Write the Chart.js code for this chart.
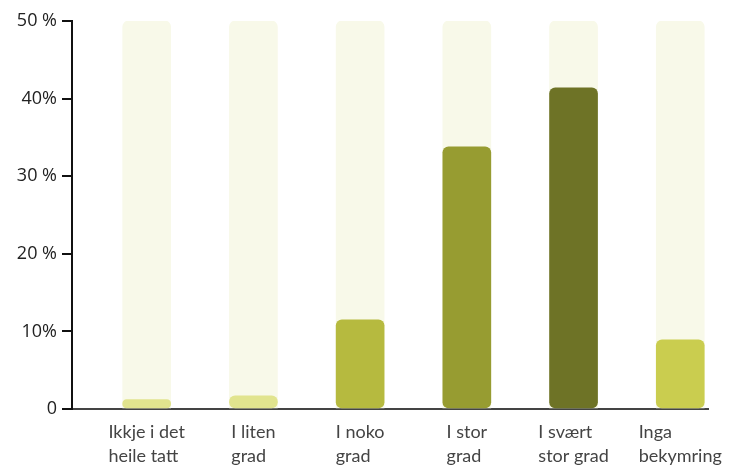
<!DOCTYPE html>
<html>
<head>
<meta charset="utf-8">
<script src="https://cdn.jsdelivr.net/npm/chart.js@4"></script>
<style>
html,body{margin:0;padding:0;background:#fff;}
#wrap{width:748px;height:471px;}
</style>
</head>
<body>
<div id="wrap"><canvas id="chart" width="748" height="471"></canvas></div>
<script>
// categories (multi-line as in the picture)
let categories=[
["Ikkje i det","heile tatt"],
["I liten","grad"],
["I noko","grad"],
["I stor","grad"],
["I svært","stor grad"],
["Inga","bekymring"]
];

let values=[1.2,1.7,11.5,33.8,41.4,8.9];

let trackMax=[50,50,50,50,50,50];

let yTicks=[0,10,20,30,40,50];
let yTickLabels=["0","10%","20 %","30 %","40%","50 %"];

let barColors=["#e1e48e","#e1e48e","#b6ba3f","#979c31","#6e7326","#cacd4f"];


// left aligned multi-line labels under each bar
let catLabels={
id:"catLabels",
afterDraw(chart){
let ctx=chart.ctx;
let x=chart.scales.x;
ctx.save();
ctx.font="18px Lato";
ctx.fillStyle="#444";
ctx.textAlign="left";
ctx.textBaseline="alphabetic";
categories.forEach((lines,i)=>{
let cx=x.getPixelForValue(i);
let w=Math.max(...lines.map(l=>ctx.measureText(l).width));
lines.forEach((l,j)=>{
ctx.fillText(l,cx-w/2,438+j*24);
});
});
ctx.restore();
}
};


new Chart(
document.getElementById("chart"),
{
type:"bar",
data:{
datasets:[
{
data:values.map((v,i)=>({x:i,y:v})),
backgroundColor:barColors,
borderRadius:6,
borderSkipped:false,
barThickness:48,
grouped:false,
order:0
},
{
data:trackMax.map((v,i)=>({x:i,y:v})),
backgroundColor:"#f8f9e9",
borderRadius:{topLeft:6,topRight:6,bottomLeft:0,bottomRight:0},
borderSkipped:false,
barThickness:48,
grouped:false,
order:1
}
]
},
options:{
responsive:false,
animation:false,
layout:{padding:{left:0,top:21,right:40,bottom:0}},
plugins:{legend:{display:false},tooltip:{enabled:false}},
scales:{
x:{
type:"linear",
offset:false,
min:-0.7,
max:5.26,
ticks:{display:false,stepSize:1},
grid:{display:false},
border:{color:"#444",width:2},
afterFit(s){s.height=62;}
},
y:{
min:0,
max:50,
afterBuildTicks(s){s.ticks=yTicks.map(v=>({value:v}));},
ticks:{
color:"#222",
font:{family:"Open Sans",size:18},
padding:5,
callback:(v)=>yTickLabels[yTicks.indexOf(v)]
},
grid:{drawOnChartArea:false,color:"#111",lineWidth:2,tickLength:10},
border:{color:"#111",width:2},
afterFit(s){s.width=72;}
}
}
},
plugins:[catLabels]
}
);
</script>
</body>
</html>
